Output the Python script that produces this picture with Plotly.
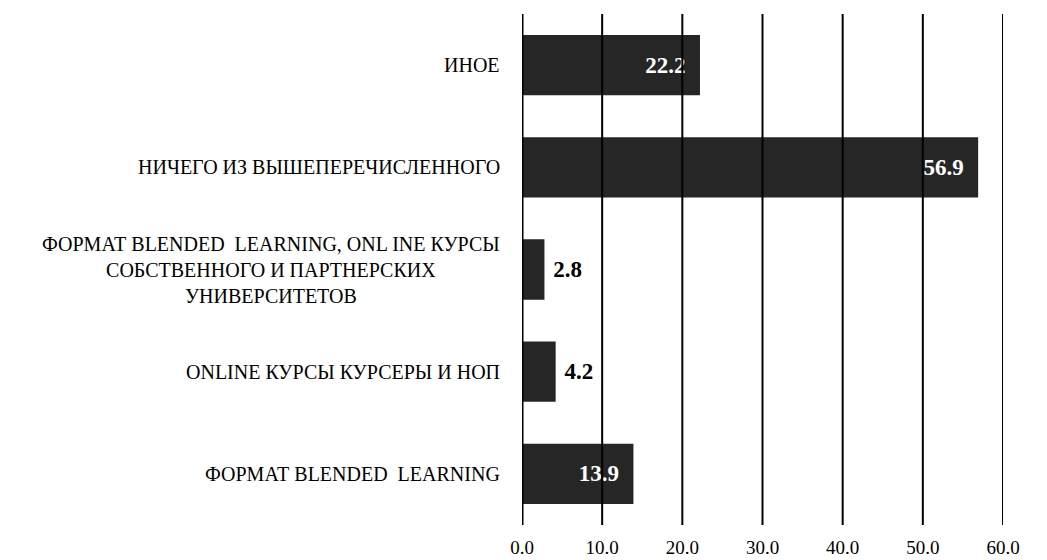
import plotly.graph_objects as go

categories = [
    "ФОРМАТ BLENDED  LEARNING",
    "ONLINE КУРСЫ КУРСЕРЫ И НОП",
    "ФОРМАТ BLENDED  LEARNING, ONL INE КУРСЫ<br>СОБСТВЕННОГО И ПАРТНЕРСКИХ<br>УНИВЕРСИТЕТОВ",
    "НИЧЕГО ИЗ ВЫШЕПЕРЕЧИСЛЕННОГО",
    "ИНОЕ",
]
values = [13.9, 4.2, 2.8, 56.9, 22.2]
x_ticks = [0, 10, 20, 30, 40, 50, 60]
x_tick_labels = ["0.0", "10.0", "20.0", "30.0", "40.0", "50.0", "60.0"]

FONT = "Liberation Serif"
BAR = "#262626"
NB = "\u00a0"

positions = ["inside" if v > 10 else "outside" for v in values]
labels = [f"{v:.1f}{NB*2}" if v > 10 else f"{NB}{v:.1f}" for v in values]

fig = go.Figure(go.Bar(
    y=categories, x=values, orientation="h",
    marker=dict(color=BAR, line=dict(width=0)),
    text=labels,
    textposition=positions,
    insidetextanchor="end",
    insidetextfont=dict(family=FONT, size=23, color="white", weight="bold"),
    outsidetextfont=dict(family=FONT, size=23, color="black", weight="bold"),
    textangle=0,
    cliponaxis=False,
    width=0.59,
))

shapes = [dict(type="line", xref="x", yref="paper", x0=t, x1=t, y0=0, y1=1,
               line=dict(color="black", width=3 if t == 0 else 2), layer="above")
          for t in x_ticks]

annotations = [dict(xref="paper", yref="y", x=0, y=c, text=c, showarrow=False,
                    xanchor="right", yanchor="middle", align="center", xshift=-20,
                    font=dict(family=FONT, size=20, color="black")) for c in categories]

fig.update_layout(
    width=1039, height=552,
    margin=dict(l=514, r=44, t=6, b=35, autoexpand=False),
    paper_bgcolor="white", plot_bgcolor="white",
    showlegend=False,
    font=dict(family=FONT),
    shapes=shapes, annotations=annotations,
    xaxis=dict(range=[0, 60], tickvals=x_ticks, ticktext=x_tick_labels,
               showgrid=False, zeroline=False, showline=False, ticks="",
               automargin=False,
               tickfont=dict(family=FONT, size=19, color="black"), ticklabelstandoff=9),
    yaxis=dict(showticklabels=False, showgrid=False, zeroline=False, showline=False,
               ticks="", categoryorder="array", categoryarray=categories,
               automargin=False, range=[-0.5, 4.5]),
)

fig.write_html("out.html")
